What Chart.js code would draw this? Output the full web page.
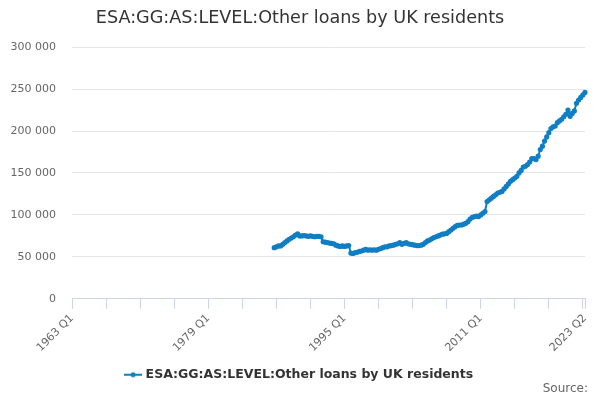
<!DOCTYPE html>
<html lang="en">
<head>
    <meta charset="UTF-8">
    <title>ESA:GG:AS:LEVEL:Other loans by UK residents</title>
    <style>
        * {
            margin: 0;
            padding: 0;
            box-sizing: border-box;
        }

        body {
            background-color: #ffffff;
        }

        .chart-box {
            width: 600px;
            height: 400px;
        }
    </style>
    <script src="https://cdn.jsdelivr.net/npm/chart.js"></script>
</head>
<body>
    <div class="chart-box">
        <canvas id="loansChart"></canvas>
    </div>

    <script>
        // Quarterly axis from 1963 Q1 to 2023 Q2
        const firstYear = 1963;
        const lastYear = 2023;
        const lastQuarter = 2;

        // The series begins in 1986 Q4
        const seriesStart = '1986 Q4';
        const seriesValues = [
            61000,
            62000, 63000, 63000, 65000,
            67000, 69000, 71000, 72500,
            74000, 76000, 77500, 75000,
            75000, 75500, 75000, 74500,
            75000, 74500, 74000, 74500,
            74500, 74000, 68000, 67500,
            67000, 66500, 66000, 65500,
            64000, 63000, 62500, 63000,
            62500, 63000, 63500, 54500,
            54000, 55000, 55500, 56500,
            57000, 58000, 59000, 58000,
            58500, 58000, 58500, 58000,
            59000, 60000, 61000, 62000,
            62000, 63000, 63500, 64000,
            65000, 65500, 67000, 65000,
            66000, 67000, 65500, 65000,
            64500, 64000, 63500, 63500,
            64000, 65000, 67000, 69000,
            70000, 71500, 73000, 74000,
            75000, 76000, 77000, 77500,
            78000, 80000, 82000, 84000,
            86000, 87500, 88000, 88000,
            89000, 90000, 92000, 95000,
            97000, 98000, 98500, 98000,
            100000, 102000, 104000, 116000,
            118000, 120000, 122000, 124000,
            126000, 127000, 128000, 131000,
            134000, 137000, 140000, 142000,
            144000, 146000, 150000, 153000,
            157000, 158000, 160000, 163000,
            167000, 167000, 166000, 170000,
            178000, 182000, 188000, 193000,
            198000, 203000, 205000, 206000,
            210000, 212000, 214000, 217000,
            220000, 225000, 217500, 221000,
            224000, 233000, 237000, 240000,
            243000, 246000
        ];

        const yTicks = [0, 50000, 100000, 150000, 200000, 250000, 300000];

        const periods = [];
        for (let y = firstYear; y <= lastYear; y++) {
            for (let q = 1; q <= 4; q++) {
                if (y === lastYear && q > lastQuarter) break;
                periods.push(y + ' Q' + q);
            }
        }

        const startIndex = periods.indexOf(seriesStart);
        const chartData = periods.map((p, i) =>
            i >= startIndex ? seriesValues[i - startIndex] : null);

        const lastIndex = periods.length - 1;
        const lineColor = '#0f7ec4';
        const font = "'DejaVu Sans', sans-serif";

        function spaced(v) {
            return String(v).replace(/\B(?=(\d{3})+(?!\d))/g, ' ');
        }

        // small line-with-dot marker for the legend
        function legendMarker() {
            const c = document.createElement('canvas');
            c.width = 18;
            c.height = 8;
            const g = c.getContext('2d');
            g.strokeStyle = lineColor;
            g.lineWidth = 2;
            g.beginPath();
            g.moveTo(0, 4);
            g.lineTo(18, 4);
            g.stroke();
            g.fillStyle = lineColor;
            g.beginPath();
            g.arc(9, 4, 2.5, 0, Math.PI * 2);
            g.fill();
            return c;
        }

        // "Source:" credit in the bottom right corner
        const sourceCredit = {
            id: 'sourceCredit',
            afterDraw(chart) {
                const ctx = chart.ctx;
                ctx.save();
                ctx.font = "12px " + font;
                ctx.fillStyle = '#666666';
                ctx.textAlign = 'right';
                ctx.textBaseline = 'middle';
                ctx.fillText('Source:', 588, 389);
                ctx.restore();
            }
        };

        new Chart(document.getElementById('loansChart'), {
            type: 'line',
            data: {
                labels: periods,
                datasets: [{
                    label: 'ESA:GG:AS:LEVEL:Other loans by UK residents',
                    data: chartData,
                    borderColor: lineColor,
                    backgroundColor: lineColor,
                    borderWidth: 2,
                    pointRadius: 1.6,
                    pointHoverRadius: 3,
                    tension: 0
                }]
            },
            options: {
                responsive: true,
                maintainAspectRatio: false,
                animation: false,
                layout: {
                    padding: { left: 0, right: 0, top: 4, bottom: 9 }
                },
                scales: {
                    x: {
                        // keep the plot at fixed edges, the rotated labels fit anyway
                        afterFit: axis => {
                            axis.paddingLeft = 0;
                            axis.paddingRight = 15;
                        },
                        grid: {
                            drawOnChartArea: false,
                            tickLength: 10,
                            tickColor: ctx => (ctx.index % 16 === 0 || ctx.index === lastIndex) ? '#ccd6eb' : 'rgba(0,0,0,0)'
                        },
                        border: { color: '#ccd6eb' },
                        ticks: {
                            autoSkip: false,
                            minRotation: 45,
                            maxRotation: 45,
                            color: '#666666',
                            font: { family: font, size: 11 },
                            callback: function (val, i) {
                                if (i % 64 === 0 || i === lastIndex) return periods[i];
                                return '';
                            }
                        }
                    },
                    y: {
                        min: 0,
                        max: 300000,
                        afterBuildTicks: axis => {
                            axis.ticks = yTicks.map(v => ({ value: v }));
                        },
                        afterFit: axis => {
                            axis.width = 72;
                        },
                        grid: {
                            color: '#e6e6e6',
                            drawTicks: false
                        },
                        border: { display: false },
                        ticks: {
                            padding: 16,
                            color: '#666666',
                            font: { family: font, size: 11 },
                            callback: v => spaced(v)
                        }
                    }
                },
                plugins: {
                    title: {
                        display: true,
                        text: 'ESA:GG:AS:LEVEL:Other loans by UK residents',
                        color: '#333333',
                        font: { family: font, size: 17.6, weight: 'normal' },
                        padding: { top: 4, bottom: 18 }
                    },
                    legend: {
                        position: 'bottom',
                        labels: {
                            usePointStyle: true,
                            pointStyle: legendMarker(),
                            color: '#333333',
                            font: { family: font, size: 12.5, weight: 'bold' },
                            padding: 11
                        }
                    },
                    tooltip: { enabled: true }
                }
            },
            plugins: [sourceCredit]
        });
    </script>
</body>
</html>
